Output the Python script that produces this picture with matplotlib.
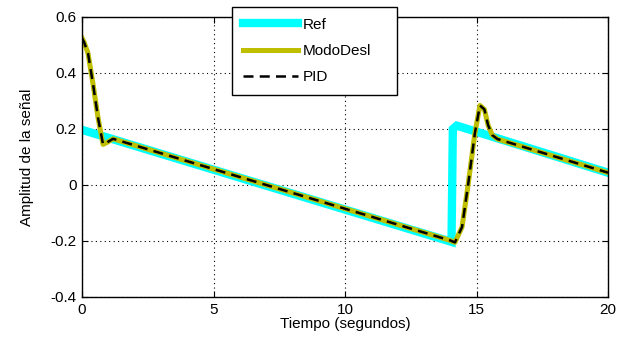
import matplotlib
matplotlib.use('Agg')
import matplotlib.pyplot as plt

# referencia (diente de sierra)
t_ref = [0.0, 14.05, 14.1, 14.25, 20.0]
y_ref = [0.197, -0.203, 0.20, 0.212, 0.044]

# salida modo deslizante
t_modo = [0.0, 0.08, 0.23, 0.42, 0.61, 0.8, 0.95, 1.18, 14.0, 14.18, 14.45, 14.68,
          14.94, 15.13, 15.3, 15.44, 15.6, 15.8, 20.0]
y_modo = [0.525, 0.51, 0.47, 0.36, 0.24, 0.145, 0.152, 0.165, -0.198, -0.205, -0.15, 0.0,
          0.186, 0.284, 0.27, 0.214, 0.178, 0.164, 0.044]

# salida PID (practicamente igual)
t_pid = t_modo
y_pid = y_modo

xticks = [0, 5, 10, 15, 20]
yticks = [-0.4, -0.2, 0, 0.2, 0.4, 0.6]
ylabels = ['-0.4', '-0.2', '0', '0.2', '0.4', '0.6']

plt.rcParams['font.family'] = ['Liberation Sans', 'DejaVu Sans']

fig = plt.figure(figsize=(6.23, 3.49), dpi=100)
ax = fig.add_axes([82/623, 1-297/349, (608-82)/623, (297-17)/349])

ax.plot(t_ref, y_ref, color='#00ffff', lw=6, solid_joinstyle='miter', label='Ref')
ax.plot(t_modo, y_modo, color='#bfbf00', lw=3.6, label='ModoDesl')
ax.plot(t_pid, y_pid, color='black', lw=1.8, ls=(0, (4, 2.5)), label='PID')

ax.set_xlim(0, 20)
ax.set_ylim(-0.4, 0.6)
ax.set_xticks(xticks)
ax.set_yticks(yticks)
ax.set_yticklabels(ylabels)
ax.tick_params(direction='in', top=True, right=True, labelsize=11, length=4, pad=4)
ax.grid(True, color='black', ls=(0, (1, 3)), lw=0.8)
for s in ax.spines.values():
    s.set_linewidth(1.0)

ax.set_xlabel('Tiempo (segundos)', fontsize=11, labelpad=0)
ax.set_ylabel('Amplitud de la señal', fontsize=11, labelpad=12)

leg = ax.legend(loc='upper left', bbox_to_anchor=(232/623, 1-92/349, 165/623, 85/349),
                bbox_transform=fig.transFigure, mode='expand', borderaxespad=0,
                fancybox=False, framealpha=1, edgecolor='black', fontsize=11,
                handlelength=3.6, borderpad=0.7, labelspacing=0.8, handletextpad=0.3)
leg.get_frame().set_linewidth(1.0)

fig.savefig('out.png', dpi=100)
